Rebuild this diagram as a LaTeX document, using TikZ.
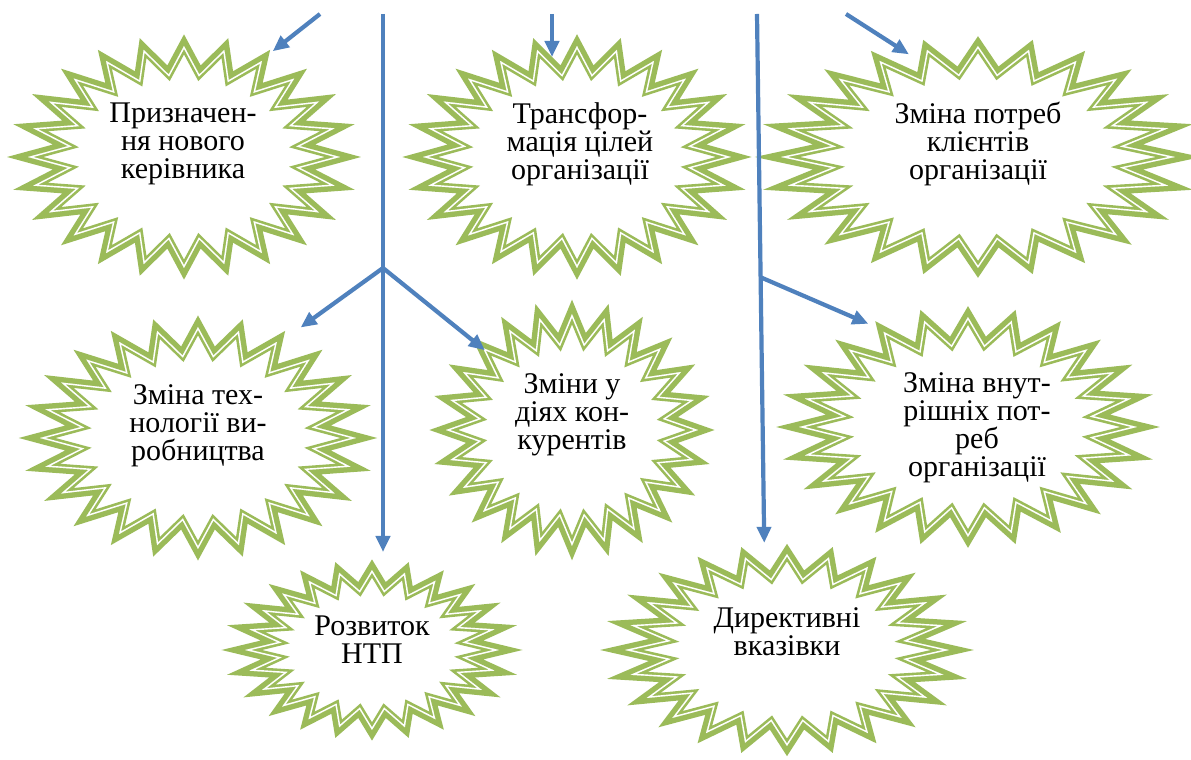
\documentclass[tikz,border=0pt]{standalone}
\usepackage{fontspec}
\setmainfont{Liberation Serif}
\usetikzlibrary{arrows.meta,shapes.geometric}
\definecolor{burstgreen}{HTML}{9BBB59}
\definecolor{arrowblue}{HTML}{4F81BD}
\tikzset{
  starouter/.style={draw=burstgreen, line width=11pt, line join=miter},
  starinnergreen/.style={draw=burstgreen, line width=8pt, line join=miter},
  starinnerwhite/.style={draw=white, line width=2.8pt, line join=miter},
  burstnode/.style={ellipse, draw=none, inner sep=0pt, outer sep=0pt},
  bursttext/.style={align=center, inner sep=0pt, font=\fontsize{30}{28}\selectfont},
  arrowline/.style={draw=arrowblue, line width=4.2pt, -{Triangle[length=16pt,width=14pt]}},
}
% #1 = path command, #2 cx, #3 cy, #4 rx, #5 ry
\newcommand{\burstpath}[5]{%
  \pgfmathsetmacro\bIRX{0.75*#4}\pgfmathsetmacro\bIRY{0.75*#5}%
  #1 (#2,{#3+#5})
    \foreach \k in {0,...,22}{ -- ({#2+\bIRX*cos(97.5+15*\k)},{#3+\bIRY*sin(97.5+15*\k)})
                               -- ({#2+#4*cos(105+15*\k)},{#3+#5*sin(105+15*\k)}) }
    -- ({#2+\bIRX*cos(442.5)},{#3+\bIRY*sin(442.5)}) -- cycle;}
% #1 cx, #2 cy, #3 outer rx, #4 outer ry
\newcommand{\burstdraw}[4]{%
  \pgfmathsetmacro\bRX{#3-18}\pgfmathsetmacro\bRY{#4-12}%
  \burstpath{\draw[starouter]}{#1}{#2}{\bRX}{\bRY}%
  \begin{scope}
    \burstpath{\clip}{#1}{#2}{\bRX}{\bRY}%
    \burstpath{\fill[white]}{#1}{#2}{\bRX}{\bRY}%
    \burstpath{\draw[starinnergreen]}{#1}{#2}{\bRX}{\bRY}%
    \burstpath{\draw[starinnerwhite]}{#1}{#2}{\bRX}{\bRY}%
  \end{scope}}
\begin{document}
\begin{tikzpicture}[x=1pt,y=1pt]
\useasboundingbox (0,0) rectangle (1191,760);
\fill[white] (0,0) rectangle (1191,760);

% star outlines (named ellipse nodes for connectors)
\node[burstnode, minimum width=348pt, minimum height=246pt] (s1) at (184,603) {};
\node[burstnode, minimum width=344pt, minimum height=246pt] (s2) at (577,603) {};
\node[burstnode, minimum width=430pt, minimum height=246pt] (s3) at (978,603) {};
\node[burstnode, minimum width=352pt, minimum height=246pt] (s4) at (198,322) {};
\node[burstnode, minimum width=288pt, minimum height=256pt] (s5) at (572,330) {};
\node[burstnode, minimum width=374pt, minimum height=244pt] (s6) at (968,333) {};
\node[burstnode, minimum width=290pt, minimum height=184pt] (s7) at (372,110) {};
\node[burstnode, minimum width=360pt, minimum height=216pt] (s8) at (787,110) {};

\burstdraw{184}{603}{174}{123}
\burstdraw{577}{603}{172}{123}
\burstdraw{978}{603}{215}{123}
\burstdraw{198}{322}{176}{123}
\burstdraw{572}{330}{144}{128}
\burstdraw{968}{333}{187}{122}
\burstdraw{372}{110}{145}{92}
\burstdraw{787}{110}{180}{108}

% texts
\node[bursttext] (t1) at (183,616) {Призначен-\\ня нового\\керівника};
\node[bursttext] (t2) at (580,616) {Трансфор-\\мація цілей\\організації};
\node[bursttext] (t3) at (978,616) {Зміна потреб\\клієнтів\\організації};
\node[bursttext] (t4) at (198,334) {Зміна тех-\\нології ви-\\робництва};
\node[bursttext] (t5) at (572,345) {Зміни у\\діях кон-\\курентів};
\node[bursttext] (t6) at (977,332) {Зміна внут-\\рішніх пот-\\реб\\організації};
\node[bursttext] (t7) at (372,120) {Розвиток\\НТП};
\node[bursttext] (t8) at (787,128) {Директивні\\вказівки};

% connector sources
\coordinate (a1) at (320,746);
\coordinate (v1) at (383,746);
\coordinate (b1) at (383,492);
\coordinate (a5) at (552,746);
\coordinate (v2) at (757,746);
\coordinate (b2) at (760,483);
\coordinate (a8) at (846,746);

\draw[arrowline] (a1) -- (s1.50);
\draw[arrowline, shorten >=6pt] (v1) -- (v1 |- s7.north);
\draw[arrowline, shorten >=11pt] (b1) -- (s4.48.5);
\draw[arrowline, shorten >=-18pt] (b1) -- (s5.138.8);
\draw[arrowline, shorten >=-23pt] (a5) -- (a5 |- s2.north);
\draw[arrowline] (v2) -- (s8.102.3);
\draw[arrowline] (b2) -- (s6.134.4);
\draw[arrowline, shorten >=-19pt] (a8) -- (s3.127.4);
\end{tikzpicture}
\end{document}
